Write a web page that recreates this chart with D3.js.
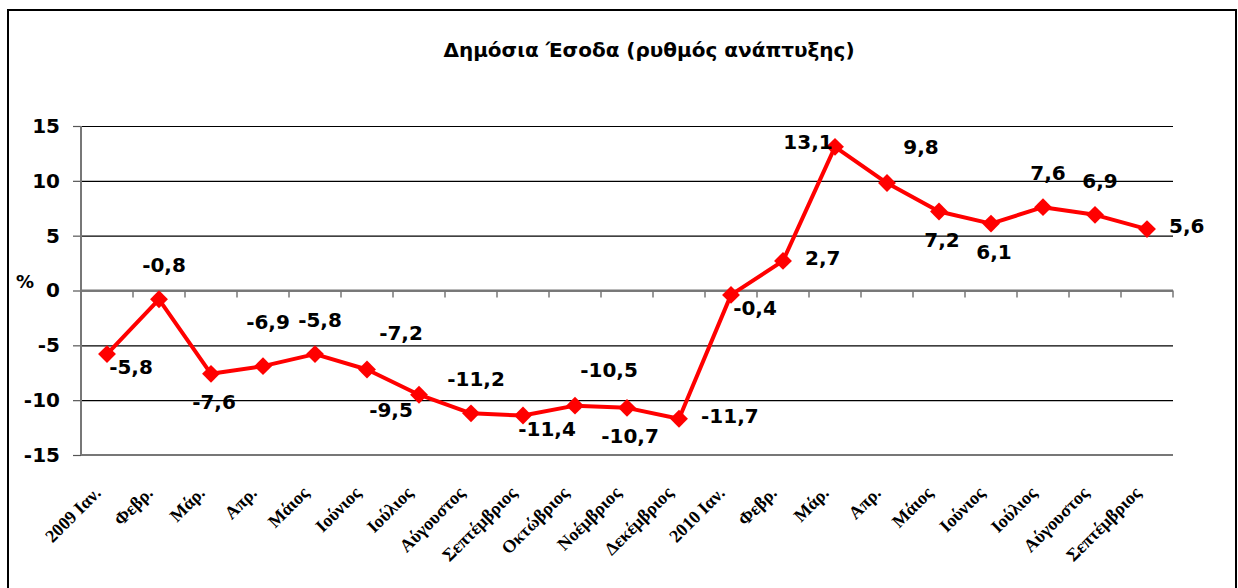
<!DOCTYPE html>
<html>
<head>
<meta charset="utf-8">
<script src="https://cdn.jsdelivr.net/npm/d3@7"></script>
<style>
    body { margin: 0; background: #fff; }
    svg text { fill: #000; }
    .num { font-family: "Comic Sans MS", "DejaVu Sans", sans-serif; font-weight: bold; }
    .cat { font-family: "Times New Roman", "Liberation Serif", serif; font-weight: bold; font-size: 18px; }
</style>
</head>
<body>
<svg width="1238" height="588"></svg>
<script>
var months = ["2009 Ιαν.", "Φεβρ.", "Μάρ.", "Απρ.", "Μάιος", "Ιούνιος", "Ιούλιος", "Αύγουστος",
              "Σεπτέμβριος", "Οκτώβριος", "Νοέμβριος", "Δεκέμβριος", "2010 Ιαν.", "Φεβρ.", "Μάρ.",
              "Απρ.", "Μάιος", "Ιούνιος", "Ιούλιος", "Αύγουστος", "Σεπτέμβριος"];
var growth = [-5.8, -0.8, -7.6, -6.9, -5.8, -7.2, -9.5, -11.2, -11.4, -10.5, -10.7, -11.7,
              -0.4, 2.7, 13.1, 9.8, 7.2, 6.1, 7.6, 6.9, 5.6];
var labelSpots = ["belowRight", "above", "below", "aboveHigh", "above", "aboveRight", "belowLeft",
                  "above", "belowRight", "aboveRight", "below", "right", "belowRight", "right",
                  "left", "aboveRight", "below", "below", "above", "above", "right"];
var yTicks = [-15, -10, -5, 0, 5, 10, 15];
var title = "Δημόσια Έσοδα (ρυθμός ανάπτυξης)";

function drawChart() {
    var svg = d3.select("svg");
    var plotLeft = 81, plotRight = 1173, plotTop = 126, plotBottom = 455;

    var x = d3.scaleBand().domain(d3.range(months.length)).range([plotLeft, plotRight]);
    var y = d3.scaleLinear().domain([-15, 15]).range([plotBottom, plotTop]);
    var cx = function (i) { return x(i) + x.bandwidth() / 2; };

    // frame
    svg.append("rect")
        .attr("x", 8).attr("y", 10)
        .attr("width", 1228).attr("height", 590)
        .attr("fill", "none").attr("stroke", "#000").attr("stroke-width", 2);

    svg.append("text")
        .attr("class", "num")
        .attr("x", 649).attr("y", 57)
        .attr("text-anchor", "middle")
        .style("font-size", "20px")
        .text(title);

    // gridlines + y axis
    var yAxis = d3.axisLeft(y).tickValues(yTicks).tickSize(-(plotRight - plotLeft)).tickPadding(21)
        .tickFormat(function (d) { return d; });
    var ya = svg.append("g").attr("transform", "translate(" + plotLeft + ",0)").call(yAxis);
    ya.select(".domain").remove();
    ya.selectAll(".tick line").attr("stroke", "#000").attr("stroke-width", 1.2);
    ya.selectAll(".tick text").attr("class", "num").style("font-size", "20px");
    ya.selectAll(".tick").append("line")
        .attr("x1", -8).attr("x2", 0).attr("stroke", "#555").attr("stroke-width", 1.2);
    svg.append("line")
        .attr("x1", plotLeft).attr("x2", plotRight).attr("y1", plotBottom).attr("y2", plotBottom)
        .attr("stroke", "#777").attr("stroke-width", 2);
    svg.append("line")
        .attr("x1", plotLeft).attr("x2", plotLeft).attr("y1", plotTop).attr("y2", plotBottom)
        .attr("stroke", "#777").attr("stroke-width", 2);

    svg.append("text")
        .attr("class", "num")
        .attr("x", 25).attr("y", 288)
        .attr("text-anchor", "middle")
        .style("font-size", "18px")
        .text("%");

    // category axis on the zero line
    var bounds = d3.range(months.length + 1).map(function (i) { return plotLeft + i * x.bandwidth(); });
    svg.append("line")
        .attr("x1", plotLeft).attr("x2", plotRight).attr("y1", y(0)).attr("y2", y(0))
        .attr("stroke", "#777").attr("stroke-width", 2);
    svg.selectAll(".ctick").data(bounds).enter().append("line")
        .attr("x1", function (d) { return d; }).attr("x2", function (d) { return d; })
        .attr("y1", y(0)).attr("y2", y(0) + 7)
        .attr("stroke", "#777").attr("stroke-width", 1.5);

    svg.selectAll(".cat").data(months).enter().append("text")
        .attr("class", "cat")
        .attr("text-anchor", "end")
        .attr("transform", function (d, i) { return "translate(" + (cx(i) - 5) + ",494) rotate(-45)"; })
        .text(function (d) { return d; });

    // series
    var line = d3.line().x(function (d, i) { return cx(i); }).y(function (d) { return y(d); });
    svg.append("path")
        .datum(growth)
        .attr("d", line)
        .attr("fill", "none").attr("stroke", "#ff0000").attr("stroke-width", 4)
        .attr("stroke-linejoin", "round");

    var diamond = d3.symbol().type(d3.symbolSquare).size(160);
    svg.selectAll(".mk").data(growth).enter().append("path")
        .attr("d", diamond)
        .attr("fill", "#ff0000")
        .attr("transform", function (d, i) { return "translate(" + cx(i) + "," + y(d) + ") rotate(45)"; });

    var spots = {
        above: [5, -34, "middle"],
        aboveHigh: [5, -44, "middle"],
        below: [3, 28, "middle"],
        belowRight: [24, 13, "middle"],
        aboveRight: [34, -36, "middle"],
        belowLeft: [-28, 15, "middle"],
        left: [-27, -5, "middle"],
        right: [22, -3, "start"]
    };
    svg.selectAll(".lbl").data(growth).enter().append("text")
        .attr("class", "num")
        .style("font-size", "20px")
        .attr("text-anchor", function (d, i) { return spots[labelSpots[i]][2]; })
        .attr("x", function (d, i) { return cx(i) + spots[labelSpots[i]][0]; })
        .attr("y", function (d, i) { return y(d) + spots[labelSpots[i]][1]; })
        .attr("dy", "0.35em")
        .text(function (d) { return String(d).replace(".", ","); });
}

drawChart();
</script>
</body>
</html>
